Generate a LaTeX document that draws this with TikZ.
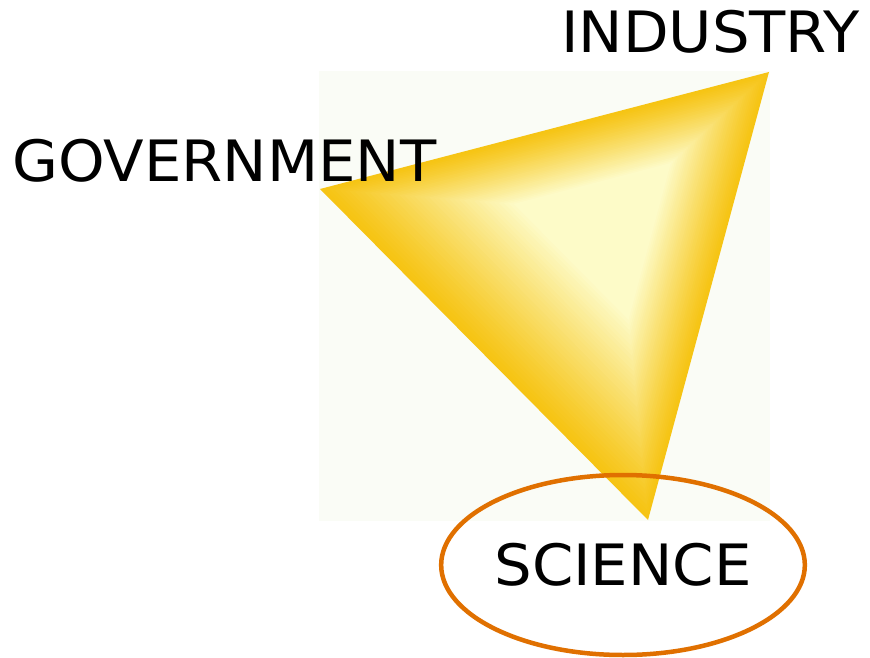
\documentclass[tikz,border=0pt]{standalone}
\usepackage{fontspec}
\setmainfont{DejaVu Sans}[FakeStretch=1.04]
\usetikzlibrary{shapes.geometric,calc}
\definecolor{gold}{HTML}{F6C414}
\definecolor{pale}{HTML}{FDFBC8}
\definecolor{bgsq}{HTML}{FAFCF6}
\definecolor{sciorange}{HTML}{E07000}
\tikzset{
  lbl/.style={font=\fontsize{57}{60}\selectfont, text=black, inner sep=0pt, anchor=base west},
}
\begin{document}
\begin{tikzpicture}[x=1pt,y=-1pt]
\useasboundingbox (0,0) rectangle (870,658);
\fill[white] (0,0) rectangle (870,658);
\fill[bgsq] (319,71) rectangle (770,521);
\coordinate (G) at (320,189);
\coordinate (I) at (769,72);
\coordinate (S) at (648,520);
\coordinate (F) at (618,212);
\foreach \i in {0,...,60}{
  \pgfmathsetmacro\s{1-\i/60}
  \pgfmathtruncatemacro\t{min(100,100*((1-\s)/0.65)^1.1)}
  \fill[pale!\t!gold] ($(F)!\s!(G)$) -- ($(F)!\s!(I)$) -- ($(F)!\s!(S)$) -- cycle;
}
\node[lbl] (gov) at (12,182) {GOVERNMENT};
\node[lbl] (ind) at (561,53) {INDUSTRY};
\node[ellipse, draw=sciorange, line width=4.5pt, minimum width=356pt, minimum height=180pt,
      font=\fontsize{57}{60}\selectfont, inner sep=0pt] (sci) at (623,565) {SCIENCE};
\end{tikzpicture}
\end{document}
